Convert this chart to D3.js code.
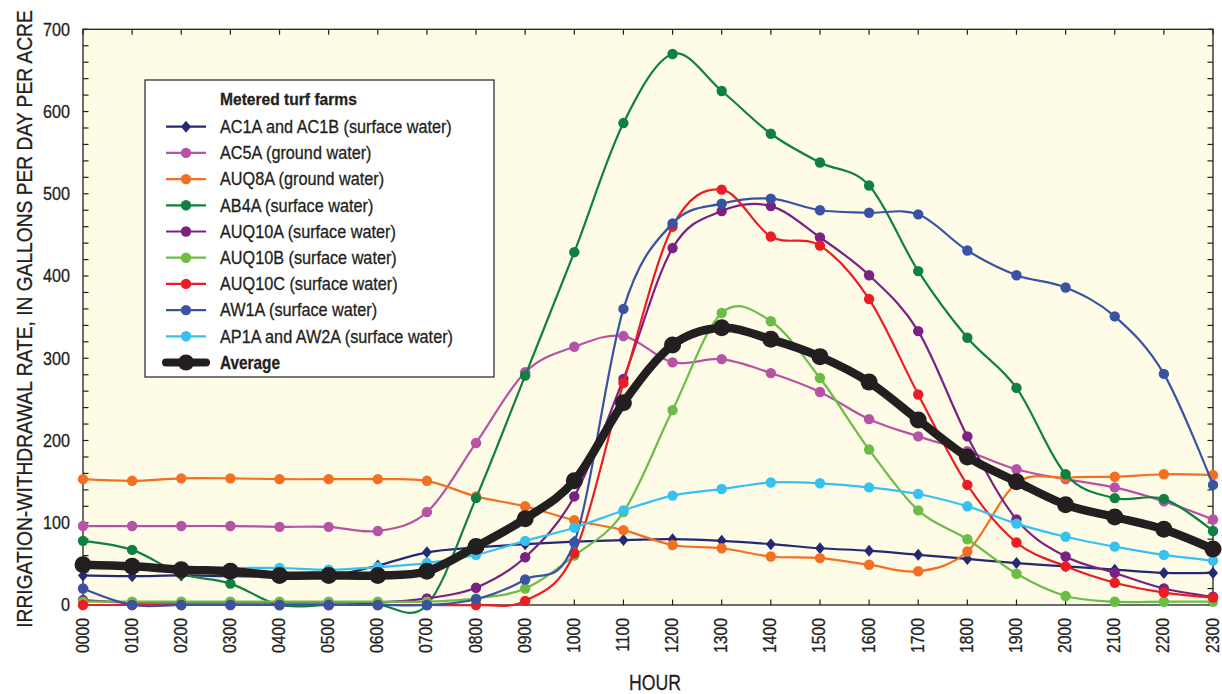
<!DOCTYPE html>
<html>
<head>
<meta charset="utf-8">
<script src="https://cdn.jsdelivr.net/npm/d3@7"></script>
<style>
  html, body { margin: 0; padding: 0; background: #ffffff; }
  svg { display: block; }
  text { font-family: "Liberation Sans Narrow", "Liberation Sans", Arial, sans-serif; fill: #231f20;
         stroke: #231f20; stroke-width: 0.3px; }
</style>
</head>
<body>
<svg id="chart" width="1222" height="694"></svg>
<script>
// Hourly irrigation-withdrawal rates, gallons per day per acre
const hours = ["0000","0100","0200","0300","0400","0500","0600","0700","0800","0900","1000","1100",
               "1200","1300","1400","1500","1600","1700","1800","1900","2000","2100","2200","2300"];
const yTicks = [0, 100, 200, 300, 400, 500, 600, 700];

const ac1a   = [36, 35, 36, 35, 35, 35, 48, 64, 70, 74, 77, 79, 80, 78, 74, 69, 66, 61, 56, 51, 47, 43, 39, 39];
const ac5a   = [96, 96, 96, 96, 95, 95, 90, 113, 197, 283, 314, 327, 295, 299, 282, 259, 226, 205, 187, 165, 153, 143, 126, 104];
const auq8a  = [153, 151, 154, 154, 153, 153, 153, 151, 132, 120, 103, 91, 73, 69, 59, 57, 49, 41, 65, 148, 155, 156, 159, 158];
const ab4a   = [78, 67, 38, 26, 0, 0, 0, 0, 130, 279, 429, 586, 670, 625, 573, 538, 510, 406, 325, 264, 159, 130, 129, 90];
const auq10a = [6, 3, 3, 3, 3, 3, 3, 8, 21, 58, 132, 275, 434, 479, 485, 447, 401, 333, 205, 104, 59, 39, 20, 10];
const auq10b = [4, 4, 4, 4, 4, 4, 4, 4, 8, 20, 60, 113, 237, 355, 345, 276, 189, 115, 80, 38, 11, 4, 4, 4];
const auq10c = [0, 0, 0, 0, 0, 0, 0, 0, 0, 5, 63, 270, 460, 505, 448, 437, 372, 256, 146, 76, 47, 27, 15, 9];
const aw1a   = [20, 0, 0, 0, 0, 0, 0, 0, 7, 31, 76, 360, 464, 488, 494, 480, 477, 475, 431, 401, 386, 351, 281, 146];
const ap1a   = [46, 45, 46, 45, 45, 43, 46, 51, 61, 78, 94, 115, 133, 141, 149, 148, 143, 135, 120, 99, 83, 71, 61, 54];
const average = [49, 47, 43, 41, 36, 36, 36, 41, 71, 105, 151, 246, 316, 337, 323, 302, 271, 225, 180, 150, 122, 107, 92, 68];

const seriesNames = ["AC1A and AC1B (surface water)", "AC5A (ground water)", "AUQ8A (ground water)",
                     "AB4A (surface water)", "AUQ10A (surface water)", "AUQ10B (surface water)",
                     "AUQ10C (surface water)", "AW1A (surface water)", "AP1A and AW2A (surface water)", "Average"];
const seriesValues = [ac1a, ac5a, auq8a, ab4a, auq10a, auq10b, auq10c, aw1a, ap1a, average];
const seriesColors = ["#232a73", "#b653a4", "#f36f21", "#0f8041", "#7a2281", "#6cbd45", "#ed1c24", "#3953a4", "#35c2f0", "#231f20"];

const svg = d3.select("#chart");
const plotLeft = 83, plotRight = 1213, plotTop = 29.3, plotBottom = 605;

const x = d3.scalePoint().domain(hours).range([plotLeft, plotRight]);
const y = d3.scaleLinear().domain([0, 700]).range([plotBottom, plotTop]);

// Horizontal squeeze that gives a sample string the wanted width (condensed type)
function squeeze(sample, size, weight, width) {
  const t = svg.append("text").attr("font-size", size).attr("font-weight", weight).text(sample);
  const w = t.node().getComputedTextLength();
  t.remove();
  return w > 0 ? width / w : 1;
}

// plot background
svg.append("rect")
  .attr("x", plotLeft).attr("y", plotTop)
  .attr("width", plotRight - plotLeft).attr("height", plotBottom - plotTop)
  .attr("fill", "#fefbe7");

// frame ticks: every hour on top and bottom, every 20 units on both sides
const minor = d3.range(0, 701, 20);
const tickG = svg.append("g").attr("stroke", "#231f20").attr("stroke-width", 1.2);
hours.forEach(h => {
  tickG.append("line").attr("x1", x(h)).attr("x2", x(h)).attr("y1", plotBottom).attr("y2", plotBottom - 5.5);
  tickG.append("line").attr("x1", x(h)).attr("x2", x(h)).attr("y1", plotTop).attr("y2", plotTop + 5.5);
});
minor.forEach(v => {
  tickG.append("line").attr("x1", plotLeft).attr("x2", plotLeft + 5.5).attr("y1", y(v)).attr("y2", y(v));
  tickG.append("line").attr("x1", plotRight).attr("x2", plotRight - 5.5).attr("y1", y(v)).attr("y2", y(v));
});

svg.append("rect")
  .attr("x", plotLeft).attr("y", plotTop)
  .attr("width", plotRight - plotLeft).attr("height", plotBottom - plotTop)
  .attr("fill", "none").attr("stroke", "#231f20").attr("stroke-width", 1.3);

// y tick labels
const fy = squeeze("700", 18.5, "normal", 27);
const yAxis = d3.axisLeft(y).tickValues(yTicks).tickSize(0).tickPadding(0);
const yg = svg.append("g").attr("transform", `translate(${plotLeft},0)`).call(yAxis);
yg.select(".domain").remove();
yg.attr("font-family", null).attr("font-size", null);
yg.selectAll("text")
  .attr("font-size", 18.5).attr("fill", "#231f20")
  .attr("text-anchor", "end")
  .attr("x", 0)
  .attr("transform", `translate(-13,0) scale(${fy},1)`);

// x tick labels, rotated
const fx = squeeze("0000", 18, "normal", 35);
const xAxis = d3.axisBottom(x).tickSize(0).tickPadding(0);
const xg = svg.append("g").attr("transform", `translate(0,${plotBottom})`).call(xAxis);
xg.select(".domain").remove();
xg.attr("font-family", null).attr("font-size", null);
xg.selectAll("text")
  .attr("font-size", 18).attr("fill", "#231f20")
  .attr("transform", `rotate(-90) translate(-13,0) scale(${fx},1)`)
  .attr("text-anchor", "end")
  .attr("x", 0).attr("y", 0).attr("dy", "0.28em");

// axis titles
const yTitle = "IRRIGATION-WITHDRAWAL RATE, IN GALLONS PER DAY PER ACRE";
const ft = squeeze(yTitle, 22, "normal", 618);
svg.append("text")
  .attr("transform", `translate(31.5,319) rotate(-90) scale(${ft},1)`)
  .attr("text-anchor", "middle")
  .attr("font-size", 22)
  .text(yTitle);

const fh = squeeze("HOUR", 22, "normal", 52);
svg.append("text")
  .attr("transform", `translate(655,690) scale(${fh},1)`)
  .attr("text-anchor", "middle")
  .attr("font-size", 22)
  .text("HOUR");

// smooth series lines
const line = d3.line()
  .x((d, i) => x(hours[i]))
  .y(d => y(d))
  .curve(d3.curveCardinal.tension(0));

const diamond = "M0,-6L5,0L0,6L-5,0Z";

seriesValues.forEach((vals, k) => {
  const isAvg = k === seriesValues.length - 1;
  const g = svg.append("g");
  g.append("path")
    .attr("d", line(vals))
    .attr("fill", "none")
    .attr("stroke", seriesColors[k])
    .attr("stroke-width", isAvg ? 8.5 : 2.2)
    .attr("stroke-linejoin", "round");
  if (k === 0) {
    g.selectAll("path.m").data(vals).join("path")
      .attr("class", "m")
      .attr("d", diamond)
      .attr("transform", (d, i) => `translate(${x(hours[i])},${y(d)})`)
      .attr("fill", seriesColors[k]);
  } else {
    g.selectAll("circle").data(vals).join("circle")
      .attr("cx", (d, i) => x(hours[i]))
      .attr("cy", d => y(d))
      .attr("r", isAvg ? 8.5 : 5.2)
      .attr("fill", seriesColors[k]);
  }
});

// legend
const fl = squeeze(seriesNames[0], 18, "normal", 232);
const fb = squeeze("Metered turf farms", 17, "bold", 137);
const fa = squeeze("Average", 18, "bold", 60);
const lg = svg.append("g");
lg.append("rect")
  .attr("x", 145).attr("y", 80).attr("width", 349).attr("height", 297)
  .attr("fill", "#ffffff").attr("stroke", "#231f20").attr("stroke-width", 1.2);
lg.append("text")
  .attr("transform", `translate(220,99) scale(${fb},1)`)
  .attr("dy", "0.35em")
  .attr("font-size", 17).attr("font-weight", "bold")
  .text("Metered turf farms");

seriesNames.forEach((name, k) => {
  const isAvg = k === seriesNames.length - 1;
  const cy = 126.7 + k * 26.2;
  lg.append("line")
    .attr("x1", 166).attr("x2", 206).attr("y1", cy).attr("y2", cy)
    .attr("stroke", seriesColors[k]).attr("stroke-width", isAvg ? 8 : 2.2)
    .attr("stroke-linecap", isAvg ? "round" : "butt");
  if (k === 0) {
    lg.append("path").attr("d", diamond)
      .attr("transform", `translate(186,${cy})`)
      .attr("fill", seriesColors[k]);
  } else {
    lg.append("circle").attr("cx", 186).attr("cy", cy)
      .attr("r", isAvg ? 8 : 5.2).attr("fill", seriesColors[k]);
  }
  lg.append("text")
    .attr("transform", `translate(220,${cy}) scale(${isAvg ? fa : fl},1)`)
    .attr("dy", "0.35em")
    .attr("font-size", 18)
    .attr("font-weight", isAvg ? "bold" : "normal")
    .text(name);
});
</script>
</body>
</html>
